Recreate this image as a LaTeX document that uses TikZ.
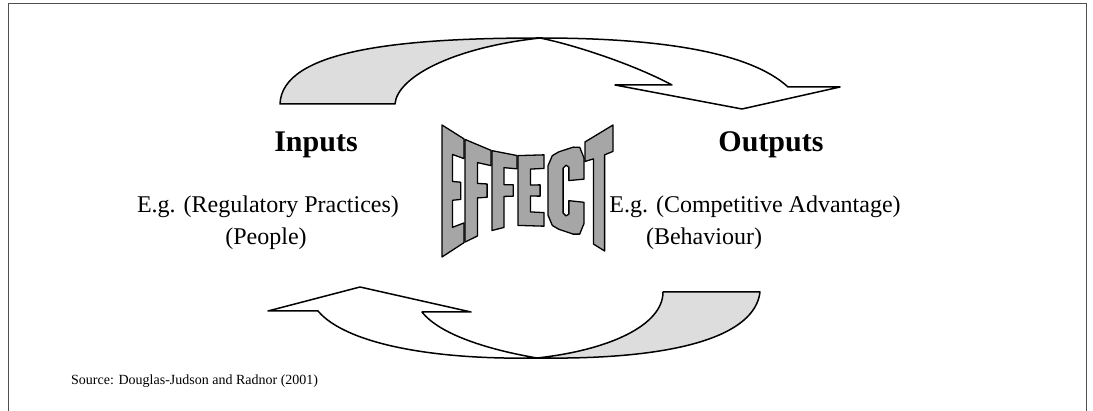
\documentclass[tikz,border=0pt]{standalone}
\usepackage{fontspec}
\setmainfont{Liberation Serif}
\definecolor{backgrey}{HTML}{DDDDDD}
\definecolor{lettergrey}{HTML}{A6A6A6}
\definecolor{framegrey}{HTML}{505050}
\makeatletter
\def\wparse#1,#2\relax{%
  \pgfmathsetmacro\wX{#1}%
  \pgfmathsetmacro\wU{\wX/171}%
  \pgfmathsetmacro\wT{125+124*\wU*(1-\wU)}%
  \pgfmathsetmacro\wB{257-128*\wU*(1-\wU)}%
  \pgfmathsetmacro\wY{\wB+(#2)*(\wT-\wB)}%
  \pgf@x=\wX pt\relax
  \advance\pgf@x by 442pt\relax
  \pgf@y=-\wY pt\relax
}
\tikzdeclarecoordinatesystem{w}{\wparse#1\relax}
\makeatother
\tikzset{
  wordart/.style={fill=lettergrey, draw=black, line width=1.3pt, line join=round},
  arrowline/.style={draw=black, line width=1.5pt, line join=round},
  txt/.style={font=\fontsize{24}{28}\selectfont, inner sep=0pt},
  hd/.style={font=\fontsize{30}{34}\selectfont\bfseries, inner sep=0pt},
  src/.style={font=\fontsize{14}{16}\selectfont, inner sep=0pt},
}
\newcommand\wlE[2]{%
  \path[wordart] (w cs:#1,0) -- (w cs:#1+#2,0) -- (w cs:#1+#2,0.19) -- (w cs:#1+0.48*#2,0.19)
   -- (w cs:#1+0.48*#2,0.42) -- (w cs:#1+0.85*#2,0.42) -- (w cs:#1+0.85*#2,0.58)
   -- (w cs:#1+0.48*#2,0.58) -- (w cs:#1+0.48*#2,0.81) -- (w cs:#1+#2,0.81)
   -- (w cs:#1+#2,1) -- (w cs:#1,1) -- cycle;}
\newcommand\wlF[2]{%
  \path[wordart] (w cs:#1,0) -- (w cs:#1+0.48*#2,0)
   -- (w cs:#1+0.48*#2,0.42) -- (w cs:#1+0.85*#2,0.42) -- (w cs:#1+0.85*#2,0.58)
   -- (w cs:#1+0.48*#2,0.58) -- (w cs:#1+0.48*#2,0.81) -- (w cs:#1+#2,0.81)
   -- (w cs:#1+#2,1) -- (w cs:#1,1) -- cycle;}
\newcommand\wlC[2]{%
  \path[wordart] (w cs:#1+#2,0.62) -- (w cs:#1+#2,0.84) -- (w cs:#1+0.88*#2,0.97)
   -- (w cs:#1+0.7*#2,1) -- (w cs:#1+0.3*#2,1) -- (w cs:#1+0.12*#2,0.97)
   -- (w cs:#1,0.84) -- (w cs:#1,0.16) -- (w cs:#1+0.12*#2,0.03) -- (w cs:#1+0.3*#2,0)
   -- (w cs:#1+0.7*#2,0) -- (w cs:#1+0.88*#2,0.03) -- (w cs:#1+#2,0.16)
   -- (w cs:#1+#2,0.38) -- (w cs:#1+0.58*#2,0.38) -- (w cs:#1+0.58*#2,0.22)
   -- (w cs:#1+0.5*#2,0.19) -- (w cs:#1+0.42*#2,0.22) -- (w cs:#1+0.42*#2,0.78)
   -- (w cs:#1+0.5*#2,0.81) -- (w cs:#1+0.58*#2,0.78) -- (w cs:#1+0.58*#2,0.62) -- cycle;}
\newcommand\wlT[2]{%
  \path[wordart] (w cs:#1+0.3*#2,0) -- (w cs:#1+0.7*#2,0) -- (w cs:#1+0.7*#2,0.8)
   -- (w cs:#1+#2,0.8) -- (w cs:#1+#2,1) -- (w cs:#1,1) -- (w cs:#1,0.8)
   -- (w cs:#1+0.3*#2,0.8) -- cycle;}
\begin{document}
\begin{tikzpicture}[x=1pt,y=-1pt]
\useasboundingbox (0,0) rectangle (1093,411);
% frame
\draw[framegrey, line width=1pt] (8,411) -- (8,4) -- (1086,4) -- (1086,411);
% top curved arrow
\path[arrowline, fill=backgrey] (280,104) .. controls (282,50) and (400,38) .. (540,38)
  .. controls (450,48) and (397,78) .. (395,104) -- cycle;
\path[arrowline, fill=white] (540,38) .. controls (660,38) and (750,52) .. (788,87)
  -- (840,87) -- (742,109) -- (615,85) -- (672,85)
  .. controls (635,65) and (575,45) .. (540,38) -- cycle;
% bottom curved arrow
\path[arrowline, fill=backgrey] (760,292) .. controls (755,335) and (680,360) .. (537,358)
  .. controls (610,350) and (663,325) .. (663,292) -- cycle;
\path[arrowline, fill=white] (537,358) .. controls (430,360) and (345,343) .. (318,311)
  -- (268,311) -- (360,287) -- (471,312) -- (422,312)
  .. controls (440,335) and (490,350) .. (537,358) -- cycle;
% word art EFFECT
\wlE{0}{22}
\wlF{23}{26}
\wlF{50}{25}
\wlE{76}{26}
\wlC{106}{36}
\wlT{143}{28}
% texts
\node[hd, anchor=base] (inputs) at (316,152) {Inputs};
\node[txt, anchor=base] (inex1) at (268,213) {E.g. (Regulatory Practices)};
\node[txt, anchor=base] (inex2) at (266,245) {(People)};
\node[hd, anchor=base] (outputs) at (771,152) {Outputs};
\node[txt, anchor=base] (outex1) at (755,213) {E.g. (Competitive Advantage)};
\node[txt, anchor=base] (outex2) at (704,245) {(Behaviour)};
\node[src, anchor=base west] (source) at (71,385) {Source: Douglas-Judson and Radnor (2001)};
\end{tikzpicture}
\end{document}
